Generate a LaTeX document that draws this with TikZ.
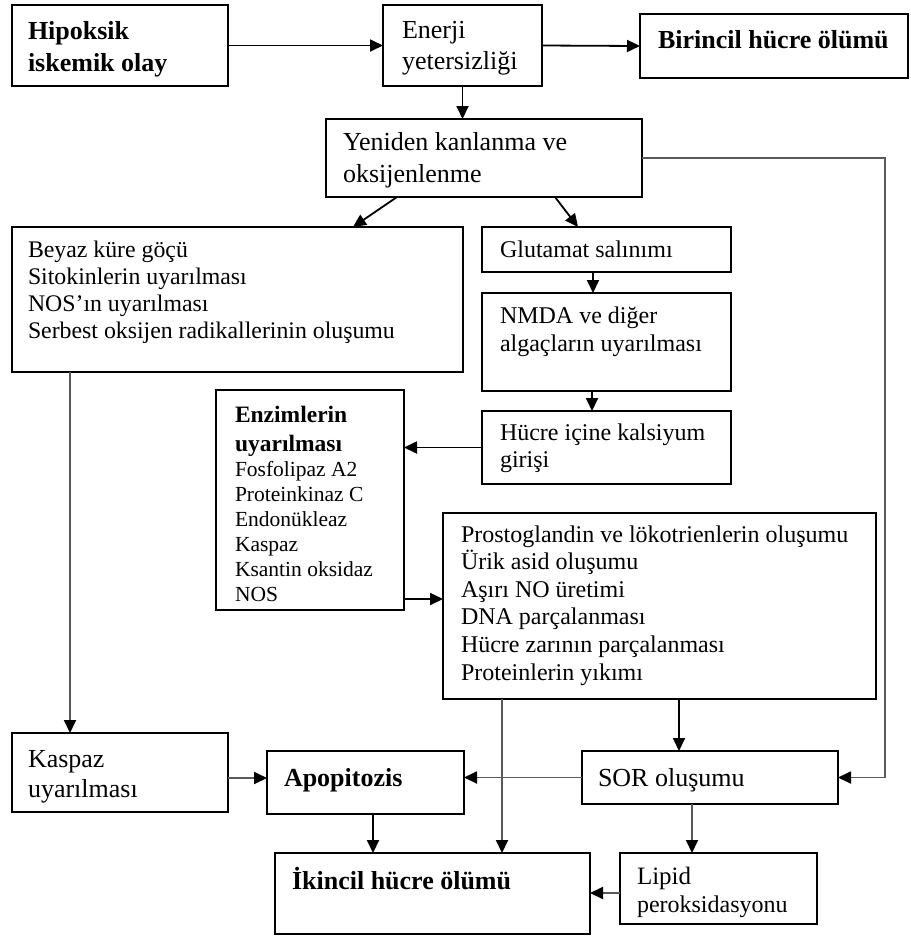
\documentclass[tikz,border=0pt]{standalone}
\usepackage{fontspec}
\setmainfont{Liberation Serif}
\usetikzlibrary{arrows.meta,calc}
\newcommand{\fsz}[2]{\fontsize{#1}{#2}\selectfont}
\newcommand{\tl}[1]{\begin{tabular}[t]{@{}l@{}}#1\end{tabular}}
\begin{document}
\begin{tikzpicture}[x=1pt,y=-1pt,
  box/.style={draw=black, line width=1.7pt, rectangle, inner sep=0pt, outer sep=0pt, anchor=north west},
  txt/.style={anchor=base west, inner sep=0pt, outer sep=0pt, text=black},
  arr/.style={line width=1.8pt, draw=black, -{Triangle[length=13pt,width=12pt]}},
  garr/.style={line width=1.8pt, draw=black!65, -{Triangle[length=13pt,width=12pt,color=black]}}]
\useasboundingbox[fill=white] (0,0) rectangle (911,938);

% boxes
\node[box, minimum width=216pt, minimum height=81pt] (hip) at (12,5) {};
\node[box, minimum width=159pt, minimum height=81pt] (enerji) at (383,5) {};
\node[box, minimum width=268pt, minimum height=64pt] (birincil) at (640,14) {};
\node[box, minimum width=316pt, minimum height=78pt] (yeniden) at (326,119) {};
\node[box, minimum width=451pt, minimum height=145pt] (beyaz) at (12,227) {};
\node[box, minimum width=249pt, minimum height=45pt] (glut) at (482,227) {};
\node[box, minimum width=249pt, minimum height=98pt] (nmda) at (482,293) {};
\node[box, minimum width=249pt, minimum height=73pt] (hucre) at (482,411) {};
\node[box, minimum width=188pt, minimum height=220pt] (enzim) at (216,390) {};
\node[box, minimum width=433pt, minimum height=186pt] (prosto) at (443,513) {};
\node[box, minimum width=216pt, minimum height=79pt] (kaspaz) at (12,733) {};
\node[box, minimum width=197pt, minimum height=63pt] (apop) at (267,751) {};
\node[box, minimum width=256pt, minimum height=53pt] (sor) at (582,751) {};
\node[box, minimum width=315pt, minimum height=81pt] (ikincil) at (275,853) {};
\node[box, minimum width=197pt, minimum height=71pt] (lipid) at (620,853) {};

% texts
\node[txt] (thip) at (28,39) {\fsz{26}{32}\bfseries\tl{Hipoksik\\iskemik olay}};
\node[txt] (tenerji) at (402,38) {\fsz{26}{31}\tl{Enerji\\yetersizliği}};
\node[txt] (tbirincil) at (658,48) {\fsz{26}{31}\bfseries Birincil hücre ölümü};
\node[txt] (tyeniden) at (343,150) {\fsz{26}{32}\tl{Yeniden kanlanma ve\\oksijenlenme}};
\node[txt] (tbeyaz) at (28,257) {\fsz{23.8}{27.3}\tl{Beyaz küre göçü\\Sitokinlerin uyarılması\\NOS’ın uyarılması\\Serbest oksijen radikallerinin oluşumu}};
\node[txt] (tglut) at (500,257) {\fsz{24}{28}Glutamat salınımı};
\node[txt] (tnmda) at (500,323) {\fsz{24}{28}\tl{NMDA ve diğer\\algaçların uyarılması}};
\node[txt] (thucre) at (500,440) {\fsz{24}{27}\tl{Hücre içine kalsiyum\\girişi}};
\node[txt] (tenzim) at (235,422) {\fsz{21.5}{25}\tl{{\fsz{23.5}{29}\bfseries Enzimlerin}\\[4pt]{\fsz{23.5}{29}\bfseries uyarılması}\\Fosfolipaz A2\\Proteinkinaz C\\Endonükleaz\\Kaspaz\\Ksantin oksidaz\\NOS}};
\node[txt] (tprosto) at (461,542) {\fsz{24}{27.6}\tl{Prostoglandin ve lökotrienlerin oluşumu\\Ürik asid oluşumu\\Aşırı NO üretimi\\DNA parçalanması\\Hücre zarının parçalanması\\Proteinlerin yıkımı}};
\node[txt] (tkaspaz) at (28,767) {\fsz{26}{30}\tl{Kaspaz\\uyarılması}};
\node[txt] (tapop) at (284,786) {\fsz{26}{30}\bfseries Apopitozis};
\node[txt] (tikincil) at (292,889) {\fsz{26}{30}\bfseries İkincil hücre ölümü};
\node[txt] (tsor) at (598,786) {\fsz{26}{30}SOR oluşumu};
\node[txt] (tlipid) at (637,884) {\fsz{25}{28}Lipid};
\node[txt] (tperoks) at (637,912) {\fsz{24}{28}peroksidasyonu};

% connectors
\draw[arr] (hip.east) -- (enerji.west);
\draw[arr] (enerji.east) -- (birincil.west);
\draw[arr] (enerji.south) -- (enerji.south |- yeniden.north);
\draw[arr] ($(yeniden.south west)+(71,0)$) -- ($(beyaz.north west)+(341,0)$);
\draw[arr] ($(yeniden.south west)+(229,0)$) -- ($(glut.north west)+(96,0)$);
\draw[garr] (yeniden.east) -| ($(sor.east)+(47,0)$) -- (sor.east);
\draw[arr] ($(glut.south west)+(111,0)$) -- ($(nmda.north west)+(111,0)$);
\draw[arr] ($(nmda.south west)+(110,0)$) -- ($(hucre.north west)+(110,0)$);
\draw[arr] (hucre.west) -- (hucre.west -| enzim.east);
\draw[arr] ($(enzim.south east)+(0,-11)$) coordinate (e1) -- (e1 -| prosto.west);
\draw[garr] ($(beyaz.south west)+(58,0)$) -- ($(kaspaz.north west)+(58,0)$);
\draw[garr] ($(prosto.south west)+(59,0)$) coordinate (p1) -- (p1 |- ikincil.north);
\draw[arr] ($(prosto.south west)+(236,0)$) coordinate (p2) -- (p2 |- sor.north);
\draw[garr] (sor.west) -- (sor.west -| apop.east);
\draw[garr] ($(kaspaz.north east)+(0,45)$) coordinate (k1) -- (k1 -| apop.west);
\draw[arr] ($(apop.south west)+(106,0)$) coordinate (a1) -- (a1 |- ikincil.north);
\draw[garr] ($(sor.south west)+(110,0)$) coordinate (s1) -- (s1 |- lipid.north);
\draw[garr] ($(lipid.north west)+(0,40)$) coordinate (l1) -- (l1 -| ikincil.east);
\end{tikzpicture}
\end{document}
